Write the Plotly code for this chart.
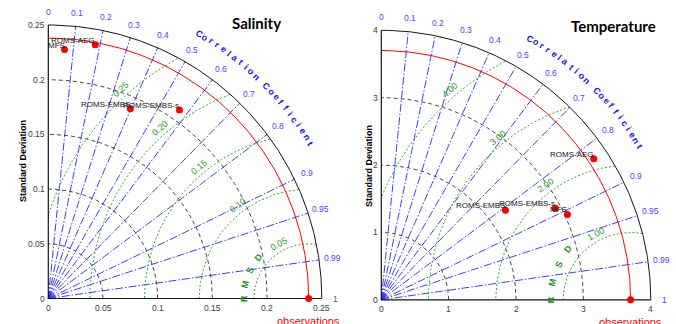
import numpy as np
import plotly.graph_objects as go

W, H = 676, 324

# Correlation ticks shared by both diagrams
corr_ticks = [0, 0.1, 0.2, 0.3, 0.4, 0.5, 0.6, 0.7, 0.8, 0.9, 0.95, 0.99, 1]
corr_tick_labels = ["0", "0.1", "0.2", "0.3", "0.4", "0.5", "0.6", "0.7",
                    "0.8", "0.9", "0.95", "0.99", "1"]

# Salinity statistics
sal_models = ["MFS", "ROMS-AEG", "ROMS-EMBS", "ROMS-EMBS-s"]
sal_std = [0.228, 0.236, 0.189, 0.210]
sal_corr = [0.065, 0.182, 0.397, 0.571]
sal_ref_std = 0.238
sal_std_ticks = [0, 0.05, 0.1, 0.15, 0.2, 0.25]
sal_std_tick_labels = ["0", "0.05", "0.1", "0.15", "0.2", "0.25"]
sal_rmsd_levels = [0.05, 0.10, 0.15, 0.20, 0.25]
sal_rmsd_labels = ["0.05", "0.10", "0.15", "0.20", "0.25"]

# Temperature statistics
temp_models = ["MFS", "ROMS-AEG", "ROMS-EMBS", "ROMS-EMBS-s"]
temp_std = [3.039, 3.786, 2.272, 2.918]
temp_corr = [0.909, 0.833, 0.811, 0.885]
temp_ref_std = 3.7
temp_std_ticks = [0, 1, 2, 3, 4]
temp_std_tick_labels = ["0", "1", "2", "3", "4"]
temp_rmsd_levels = [1.0, 2.0, 3.0, 4.0]
temp_rmsd_labels = ["1.00", "2.00", "3.00", "4.00"]

panels = [
    dict(name="Salinity", models=sal_models, std=sal_std, corr=sal_corr,
         ref=sal_ref_std, ticks=sal_std_ticks, tick_labels=sal_std_tick_labels,
         rmsd=sal_rmsd_levels, rmsd_labels=sal_rmsd_labels,
         ox=48.3, oy=298.5, rpx=273.5, dom=(0.0, 0.5),
         title_px=(256, 23), ytitle_px=(23, 161)),
    dict(name="Temperature", models=temp_models, std=temp_std, corr=temp_corr,
         ref=temp_ref_std, ticks=temp_std_ticks, tick_labels=temp_std_tick_labels,
         rmsd=temp_rmsd_levels, rmsd_labels=temp_rmsd_labels,
         ox=381.3, oy=299.8, rpx=269.5, dom=(0.5, 1.0),
         title_px=(613, 26), ytitle_px=(369, 166)),
]

BLUE_LINE = "rgb(40,40,255)"
BLUE_TEXT = "rgb(70,70,255)"
BLUE_TITLE = "rgb(20,20,235)"
GREEN_LINE = "rgb(40,175,40)"
GREEN_TEXT = "rgb(30,160,30)"
TICK_TEXT = "rgb(60,60,60)"
FONT = "Liberation Sans, Arial, sans-serif"

fig = go.Figure()
annotations = []
layout_axes = {}

for i, p in enumerate(panels):
    sfx = "" if i == 0 else str(i + 1)
    xa, ya = "x" + sfx, "y" + sfx
    rmax = p["ticks"][-1]
    k = p["rpx"] / rmax  # pixels per data unit
    x0px, x1px = p["dom"][0] * W, p["dom"][1] * W
    layout_axes["xaxis" + sfx] = dict(
        domain=list(p["dom"]), range=[(x0px - p["ox"]) / k, (x1px - p["ox"]) / k],
        visible=False, fixedrange=True, anchor=ya)
    layout_axes["yaxis" + sfx] = dict(
        domain=[0, 1], range=[(p["oy"] - H) / k, p["oy"] / k],
        visible=False, fixedrange=True, anchor=xa)

    def add_line(x, y, color, width, dash="solid"):
        fig.add_trace(go.Scatter(x=x, y=y, mode="lines", xaxis=xa, yaxis=ya,
                                 line=dict(color=color, width=width, dash=dash),
                                 hoverinfo="skip", showlegend=False))

    th = np.linspace(0, np.pi / 2, 200)

    # correlation rays
    for c in corr_ticks[1:-1]:
        a = np.arccos(c)
        add_line([0, rmax * np.cos(a)], [0, rmax * np.sin(a)], BLUE_LINE, 0.9,
                 "8px,2px,1.5px,2px")

    # standard deviation arcs
    for t in p["ticks"][1:-1]:
        add_line(t * np.cos(th), t * np.sin(th), "rgb(50,50,50)", 0.9, "4px,3px")

    # centred RMS difference contours, clipped to the quadrant
    ph = np.linspace(0, np.pi, 600)
    for r in p["rmsd"]:
        x = p["ref"] + r * np.cos(ph)
        y = r * np.sin(ph)
        keep = (np.hypot(x, y) <= rmax) & (x >= 0)
        add_line(np.where(keep, x, np.nan), np.where(keep, y, np.nan),
                 GREEN_LINE, 1.0, "2px,2px")

    # reference arc
    add_line(p["ref"] * np.cos(th), p["ref"] * np.sin(th), "rgb(255,0,0)", 1.0)
    # outer boundary and axes
    add_line(rmax * np.cos(th), rmax * np.sin(th), "rgb(20,20,20)", 1.0)
    add_line([0, rmax], [0, 0], "rgb(20,20,20)", 1.2)
    add_line([0, 0], [0, rmax], "rgb(20,20,20)", 1.2)

    # model points and observation
    ang = np.arccos(np.array(p["corr"]))
    mx = np.array(p["std"]) * np.cos(ang)
    my = np.array(p["std"]) * np.sin(ang)
    fig.add_trace(go.Scatter(x=list(mx) + [p["ref"]], y=list(my) + [0],
                             mode="markers", xaxis=xa, yaxis=ya,
                             marker=dict(color="rgb(255,0,0)", size=7),
                             hoverinfo="skip", showlegend=False))

    def ann(x, y, text, size, color, **kw):
        d = dict(x=x, y=y, xref=xa, yref=ya, text=text, showarrow=False,
                 font=dict(family=FONT, size=size, color=color))
        d.update(kw)
        annotations.append(d)

    for name, x, y in zip(p["models"], mx, my):
        ann(x, y, name, 8, "rgb(20,20,20)", xanchor="right", yanchor="bottom",
            xshift=2, yshift=-2)

    # standard deviation tick labels
    for t, lab in zip(p["ticks"], p["tick_labels"]):
        ann(0, t, lab, 8.5, TICK_TEXT, xanchor="right", yanchor="middle", xshift=-1)
        ann(t, 0, lab, 8.5, TICK_TEXT, xanchor="center", yanchor="top", yshift=-2)

    # correlation tick labels
    rl = rmax + 13.5 / k
    for c, lab in zip(corr_ticks, corr_tick_labels):
        a = np.arccos(c)
        ann(rl * np.cos(a), rl * np.sin(a), lab, 8.5, BLUE_TEXT,
            xanchor="center", yanchor="middle")

    # curved axis title along the outer arc
    title = "Correlation Coefficient"
    rc = (p["rpx"] + 31) / k
    for j, ch in enumerate(title):
        if ch == " ":
            continue
        a = 60.3 - 1.35 * j
        ar = np.radians(a)
        ann(rc * np.cos(ar), rc * np.sin(ar), ch, 9, BLUE_TITLE,
            xanchor="center", yanchor="middle", textangle=90 - a,
            font=dict(family=FONT, size=9, color=BLUE_TITLE, weight="bold"))

    # RMS difference contour labels
    c_line = 1.03 * rmax
    for r, lab in zip(p["rmsd"], p["rmsd_labels"]):
        s = (c_line - p["ref"]) / r / np.sqrt(2)
        s = min(max(s, -1), 1)
        phi = np.pi - np.arcsin(s) - np.pi / 4
        rr = r + 7.5 / k
        ann(p["ref"] + rr * np.cos(phi), rr * np.sin(phi), lab, 9, GREEN_TEXT,
            xanchor="center", yanchor="middle", textangle=90 - np.degrees(phi))

    # "RMSD" lettering around the observation point
    rr = 1.19 * p["rmsd"][0]
    for j, ch in enumerate("RMSD"):
        a = 180 - 13 * j
        ar = np.radians(a)
        ann(p["ref"] + rr * np.cos(ar), rr * np.sin(ar), ch, 9, GREEN_TEXT,
            xanchor="center", yanchor="middle", textangle=90 - a,
            font=dict(family=FONT, size=9, color="rgb(20,150,20)", weight="bold"))

    # observation label
    ann(p["ref"], 0, "observations", 11, "rgb(255,0,0)", xanchor="center",
        yanchor="top", yshift=-14)

    # panel title and y axis title
    annotations.append(dict(x=p["title_px"][0] / W, y=1 - p["title_px"][1] / H,
                            xref="paper", yref="paper", text=p["name"],
                            showarrow=False, xanchor="center", yanchor="middle",
                            font=dict(family="Lato, sans-serif", size=15,
                                      color="black", weight="bold")))
    annotations.append(dict(x=p["ytitle_px"][0] / W, y=1 - p["ytitle_px"][1] / H,
                            xref="paper", yref="paper", text="Standard Deviation",
                            showarrow=False, xanchor="center", yanchor="middle",
                            textangle=-90,
                            font=dict(family=FONT, size=9, color="black",
                                      weight="bold")))

fig.update_layout(
    width=W, height=H, autosize=False,
    margin=dict(l=0, r=0, t=0, b=0),
    paper_bgcolor="white", plot_bgcolor="white",
    showlegend=False, annotations=annotations,
    **layout_axes,
)

fig.write_html("out.html")
